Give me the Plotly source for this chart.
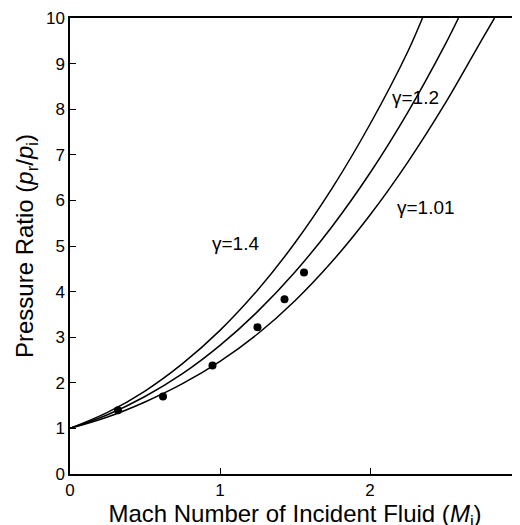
import plotly.graph_objects as go

x_g14 = [0, 0.25, 0.5, 0.75, 1.0, 1.25, 1.5, 1.75, 2.0, 2.25, 2.35]
y_g14 = [1, 1.35, 1.82, 2.42, 3.15, 4.03, 5.07, 6.28, 7.67, 9.25, 10]
x_g12 = [0, 0.25, 0.5, 0.75, 1.0, 1.25, 1.5, 1.75, 2.0, 2.25, 2.5, 2.59]
y_g12 = [1, 1.3, 1.7, 2.2, 2.82, 3.56, 4.43, 5.44, 6.6, 7.92, 9.41, 10]
x_g101 = [0, 0.25, 0.5, 0.75, 1.0, 1.25, 1.5, 1.75, 2.0, 2.25, 2.5, 2.75, 2.83]
y_g101 = [1, 1.25, 1.58, 1.98, 2.47, 3.07, 3.8, 4.67, 5.68, 6.83, 8.12, 9.55, 10]
x_pts = [0.32, 0.62, 0.95, 1.25, 1.43, 1.56]
y_pts = [1.4, 1.7, 2.38, 3.22, 3.83, 4.42]

fig = go.Figure()
for xs, ys in [(x_g14, y_g14), (x_g12, y_g12), (x_g101, y_g101)]:
    fig.add_trace(go.Scatter(x=xs, y=ys, mode="lines", line=dict(color="black", width=1.5, shape="spline")))
fig.add_trace(go.Scatter(x=x_pts, y=y_pts, mode="markers", marker=dict(color="black", size=8)))

for txt, ax, ay in [("γ=1.4", 1.1, 5.05), ("γ=1.2", 2.3, 8.25), ("γ=1.01", 2.37, 5.85)]:
    fig.add_annotation(x=ax, y=ay, text=txt, showarrow=False, font=dict(size=19))

axis = dict(showline=True, linecolor="black", linewidth=1.5, mirror=True, ticks="inside",
            ticklen=6, tickcolor="black", showgrid=False, zeroline=False,
            tickfont=dict(size=17), automargin=False)
fig.update_layout(
    width=520, height=525, showlegend=False, plot_bgcolor="white", paper_bgcolor="white",
    margin=dict(l=62, r=8, t=10, b=59),
    font=dict(family="Liberation Sans, Arial", color="black", size=20),
    xaxis=dict(axis, range=[0, 3], dtick=1,
               title=dict(text="Mach Number of Incident Fluid (<i>M</i><sub>i</sub>)", standoff=6)),
    yaxis=dict(axis, range=[0, 10], dtick=1,
               title=dict(text="Pressure Ratio (<i>p</i><sub>r</sub>/<i>p</i><sub>i</sub>)", standoff=6)),
)
fig.write_html("out.html")
